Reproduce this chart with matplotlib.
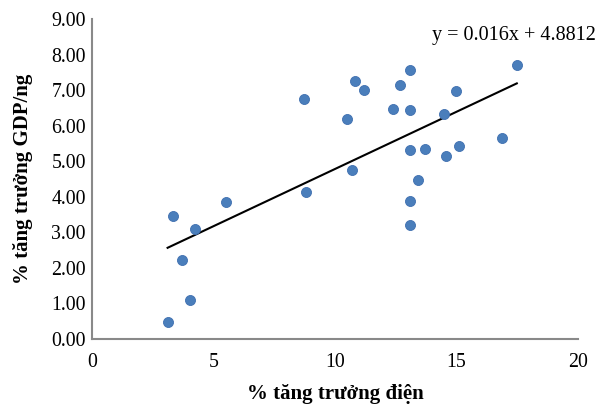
import numpy as np
import matplotlib.pyplot as plt

# % tăng trưởng điện (x) và % tăng trưởng GDP/ng (y)
dien = [3.11, 4.02, 3.70, 4.22, 3.32, 5.50, 8.81, 8.71,
        10.71, 10.51, 10.81, 11.19, 12.40, 12.69, 13.09, 13.09,
        13.10, 13.69, 13.40, 13.10, 13.10, 14.50, 14.58, 14.99,
        15.10, 16.89, 17.48]
gdp = [0.49, 1.11, 2.23, 3.10, 3.47, 3.85, 4.13, 6.75,
       4.76, 6.19, 7.26, 6.99, 6.46, 7.15, 7.56, 6.45,
       5.33, 5.34, 4.48, 3.89, 3.21, 6.34, 5.15, 6.97,
       5.43, 5.64, 7.70]
eq_text = 'y = 0.016x + 4.8812'

plt.rcParams['font.family'] = ['Liberation Serif', 'DejaVu Serif']

fig = plt.figure(figsize=(6.03, 4.05), dpi=100)
ax = fig.add_axes([0.1526, 0.163, 0.806, 0.79])

ax.scatter(dien, gdp, s=52, color='#4a7ebb', edgecolors='#3f6fb0',
           linewidths=0.6, zorder=3)

# đường xu hướng tuyến tính
x = np.array(dien)
a, b = np.polyfit(x, np.array(gdp), 1)
xs = np.array([x.min(), x.max()])
ax.plot(xs, a * xs + b, color='black', lw=1.5, zorder=2)
ax.text(0.70, 0.95, eq_text, transform=ax.transAxes, fontsize=14.5,
        va='center', ha='left')

ax.set_xlim(0, 20)
ax.set_ylim(0, 9)
ax.set_xticks([0, 5, 10, 15, 20])
ax.set_yticks(np.arange(0, 10, 1))
ax.set_yticklabels(['%.2f' % v for v in range(10)])
ax.tick_params(length=0, labelsize=14.3)
ax.tick_params(axis='y', pad=4.5)
ax.tick_params(axis='x', pad=10)

for s in ['top', 'right']:
    ax.spines[s].set_visible(False)
for s in ['left', 'bottom']:
    ax.spines[s].set_color('#898989')
    ax.spines[s].set_linewidth(1.5)

ax.set_xlabel('% tăng trưởng điện', fontsize=15, fontweight='bold',
              labelpad=8.5)
ax.set_ylabel('% tăng trưởng GDP/ng', fontsize=15, fontweight='bold',
              labelpad=13)

fig.savefig('out.png', dpi=100)
